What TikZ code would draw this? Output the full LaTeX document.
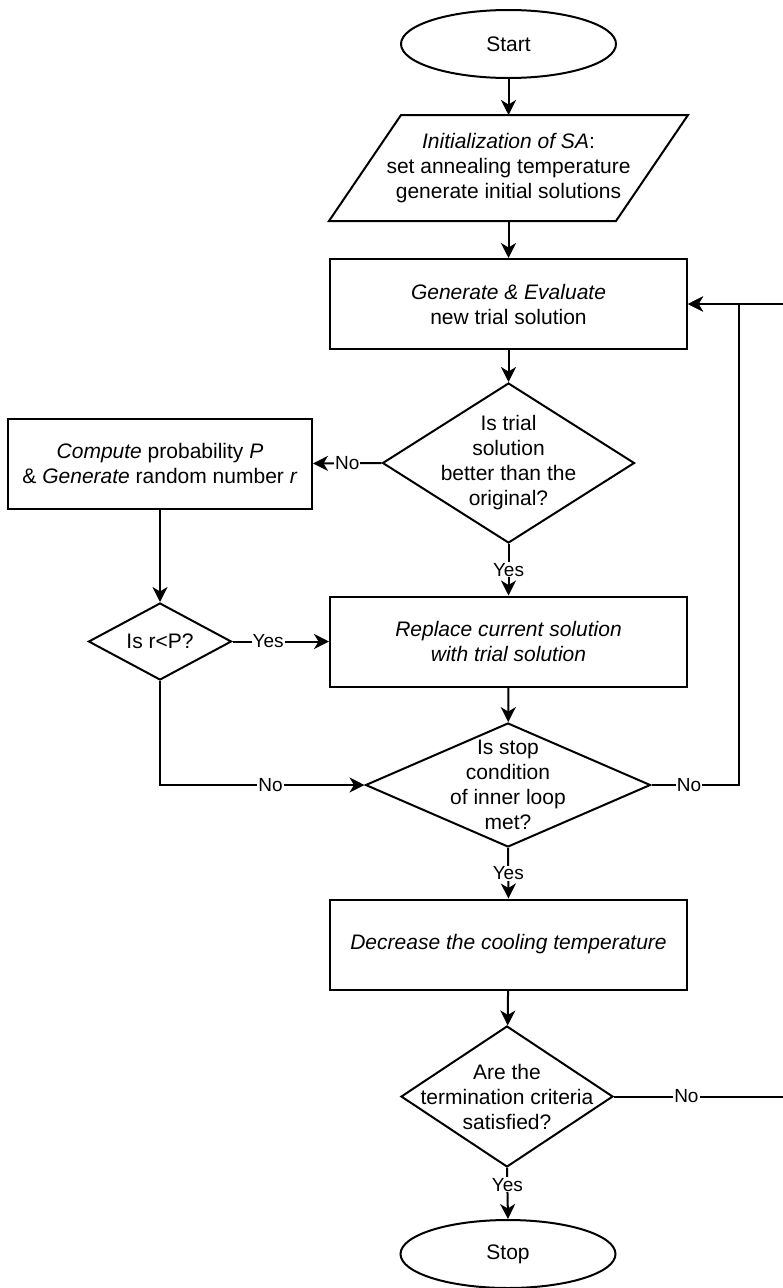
\documentclass[tikz,border=0pt]{standalone}
\usepackage{fontspec}
\setmainfont{Liberation Sans}
\usetikzlibrary{shapes.geometric,arrows.meta}

\begin{document}
\begin{tikzpicture}[x=1pt,y=-1pt,
  line width=2pt,
  >={Stealth[length=15pt,width=15pt,inset=4.5pt]},
  flow/.style={->},
  txt/.style={align=center,inner sep=0pt,font=\fontsize{21}{25}\selectfont},
  procbox/.style={draw,fill=white,rectangle,minimum width=357pt,minimum height=90pt,
    inner sep=0pt,align=center,font=\fontsize{21}{25}\selectfont},
  terminal/.style={draw,fill=white,ellipse,minimum width=215pt,minimum height=68pt,
    inner sep=0pt,font=\fontsize{21}{25}\selectfont},
  decision/.style={draw,fill=white,diamond,inner sep=0pt},
  lbl/.style={fill=white,inner sep=1pt,font=\fontsize{19}{22}\selectfont}
]
\useasboundingbox (0,0) rectangle (783,1288);
\clip (0,0) rectangle (783,1288);
\fill[white] (0,0) rectangle (783,1288);

% main column
\node[terminal] (start) at (508.5,44) {Start};

\node[txt, minimum width=285pt, minimum height=104pt] (init) at (508.5,168)
  {\textit{Initialization of SA}:\\set annealing temperature\\generate initial solutions};
\draw ([xshift=36pt]init.north west) -- ([xshift=36pt]init.north east)
  -- ([xshift=-36pt]init.south east) -- ([xshift=-36pt]init.south west) -- cycle;

\node[procbox] (gen) at (508.5,304) {\textit{Generate \& Evaluate}\\new trial solution};

\node[decision, minimum width=252pt, minimum height=160pt] (better) at (508.5,463) {};
\node[txt] (better-q) at (better) {Is trial\\solution\\better than the\\original?};

\node[procbox, minimum width=304pt] (comp) at (160,463.5)
  {\textit{Compute} probability \textit{P}\\\& \textit{Generate} random number \textit{r}};

\node[decision, minimum width=143pt, minimum height=77pt] (rp) at (160,641.5) {};
\node[txt] (rp-q) at (rp) {Is r<P?};

\node[procbox] (repl) at (508.5,641.5) {\textit{Replace current solution}\\\textit{with trial solution}};

\node[decision, minimum width=285pt, minimum height=124pt] (inner) at (508,785) {};
\node[txt] (inner-q) at (inner) {Is stop\\condition\\of inner loop\\met?};

\node[procbox] (cool) at (508.5,944.5) {\textit{Decrease the cooling temperature}};

\node[decision, minimum width=212pt, minimum height=141pt] (term) at (507,1096.5) {};
\node[txt] (term-q) at (term) {Are the\\termination criteria\\satisfied?};

\node[terminal] (stop) at (508,1254) {Stop};

% loop corners
\coordinate (innerturn) at (739,785);
\coordinate (outerturn) at (795,1096.5);

% connectors
\draw[flow] (start) -- (init);
\draw[flow] (init) -- (gen);
\draw[flow] (gen) -- (better);
\draw[flow] (better.west) -- node[lbl]{No} (comp.east);
\draw[flow] (better.south) -- node[lbl]{Yes} (repl.north);
\draw[flow] (comp.south) -- (rp.north);
\draw[flow] (rp.east) -- node[lbl,pos=0.37]{Yes} (repl.west);
\draw[flow] (rp.south) |- node[lbl,pos=0.77]{No} (inner.west);
\draw[flow] (repl) -- (inner);
\draw[flow] (inner.east) -- node[lbl,pos=0.43]{No} (innerturn) |- (gen.east);
\draw[flow] (inner.south) -- node[lbl]{Yes} (cool.north);
\draw[flow] (cool) -- (term);
\draw[flow] (term.east) -- node[lbl,pos=0.4]{No} (outerturn) |- (gen.east);
\draw[flow] (term.south) -- node[lbl,pos=0.33]{Yes} (stop.north);
\end{tikzpicture}
\end{document}
